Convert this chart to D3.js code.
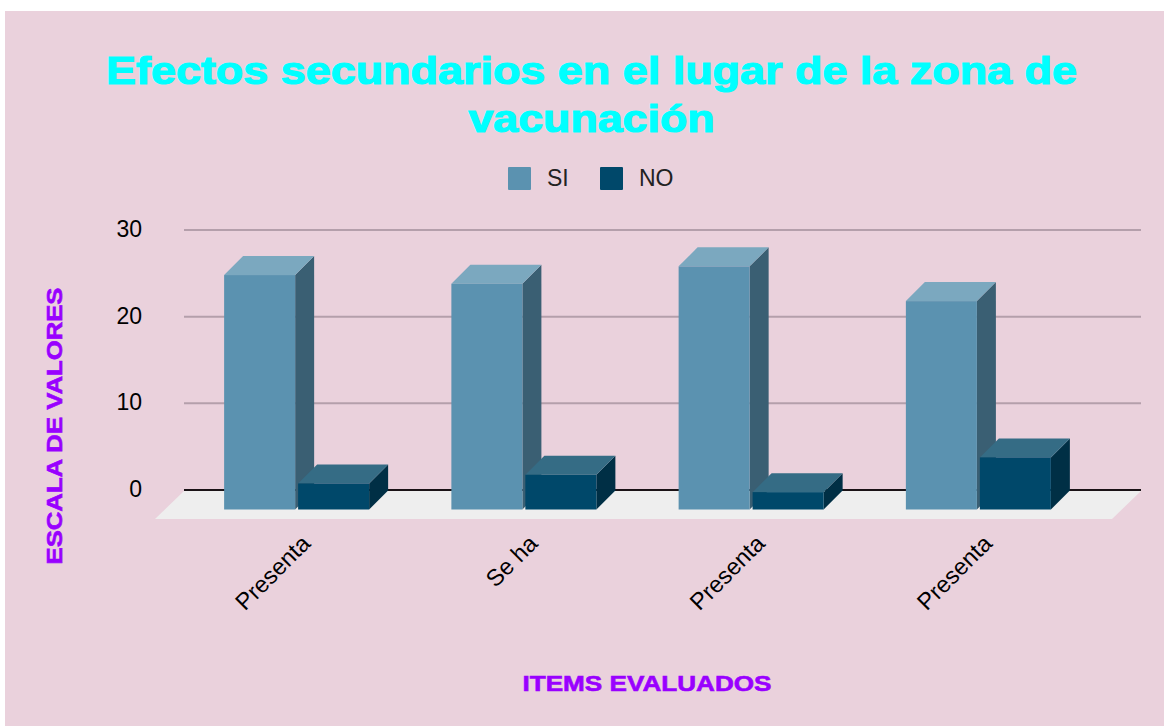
<!DOCTYPE html>
<html><head><meta charset="utf-8">
<script src="https://cdn.jsdelivr.net/npm/d3@7/dist/d3.min.js"></script>
<style>html,body{margin:0;padding:0;background:#fff}svg{display:block}text{font-family:"Liberation Sans",Arial,sans-serif}</style>
</head><body><svg id="c" width="1164" height="726"></svg>
<script>
const categories = ["Presenta", "Se ha", "Presenta", "Presenta"];
const seriesNames = ["SI", "NO"];
const siValues = [27, 26, 28, 24];
const noValues = [3, 4, 2, 6];
const yTicks = [0, 10, 20, 30];
const titleLines = ["Efectos secundarios en el lugar de la zona de", "vacunación"];
const colors = {SI: {front:"#5b92b0", top:"#7ba8bf", side:"#3a5f73"}, NO: {front:"#00486a", top:"#356c85", side:"#002f45"}};

const svg = d3.select("#c");
const depth = 19;
const y = d3.scaleLinear().domain([0,30]).range([509.5,249]); // front plane
const x0 = d3.scaleBand().domain(d3.range(categories.length)).range([183,1092]);
const x1 = d3.scaleBand().domain(seriesNames).range([0,145]).paddingInner(0.04);
const groupOffset = (x0.bandwidth()-145)/2;

svg.append("rect").attr("x",5).attr("y",11).attr("width",1159).attr("height",715).attr("fill","#ead1dc");

// title
svg.append("g").selectAll("text").data(titleLines).join("text")
  .attr("x",591.5).attr("y",(d,i)=>84+i*48).attr("text-anchor","middle")
  .attr("font-size",39).attr("font-weight","bold").attr("fill","#00ffff")
  .attr("stroke","#00ffff").attr("stroke-width",1.2).attr("textLength",(d,i)=>i==0?971:246).attr("lengthAdjust","spacingAndGlyphs")
  .text(d=>d);

// legend
const legend = svg.append("g");
[[508,547],[600,639]].forEach(([rx,tx],i)=>{
  const n = seriesNames[i];
  legend.append("rect").attr("x",rx).attr("y",167).attr("width",23).attr("height",23).attr("rx",1).attr("fill",colors[n].front);
  legend.append("text").attr("x",tx).attr("y",186).attr("font-size",23).attr("fill","#222").text(n);
});

// grid + axis on back plane
const yBack = d3.scaleLinear().domain([0,30]).range([490,230]);
const axis = d3.axisLeft(yBack).tickValues(yTicks).tickSize(0).tickPadding(0).tickFormat(d3.format("d"));
const ag = svg.append("g").attr("transform","translate(142,1)").call(axis);
ag.select(".domain").remove();
ag.selectAll("text").attr("font-size",23).attr("fill","#000").attr("dy","0.24em").attr("font-family",'"Liberation Sans",Arial,sans-serif');
svg.append("g").selectAll("line").data(yTicks).join("line")
  .attr("x1",184).attr("x2",1141).attr("y1",d=>yBack(d)).attr("y2",d=>yBack(d))
  .attr("stroke",d=>d==0?"#1a1216":"#b49fab").attr("stroke-width",2);

// floor
svg.append("path").attr("fill","#eeeeee")
  .attr("d",`M184,491L1141,491L1112,519L155,519Z`);

// bars
const rows = categories.flatMap((c,i)=>[{s:"SI",i,v:siValues[i]},{s:"NO",i,v:noValues[i]}]);
const bars = svg.append("g").selectAll("g").data(rows).join("g");
bars.each(function(d){
  const g = d3.select(this), l = x0(d.i)+groupOffset+x1(d.s), r = l+x1.bandwidth(), t = y(d.v), b = y(0), c = colors[d.s];
  g.append("path").attr("fill",c.side).attr("d",`M${r},${t}L${r+depth},${t-depth}L${r+depth},${b-depth}L${r},${b}Z`);
  g.append("path").attr("fill",c.top).attr("d",`M${l},${t}L${l+depth},${t-depth}L${r+depth},${t-depth}L${r},${t}Z`);
  g.append("rect").attr("x",l).attr("y",t).attr("width",r-l).attr("height",b-t).attr("fill",c.front);
});

// category labels
svg.append("g").selectAll("text").data(categories).join("text")
  .attr("transform",(d,i)=>`translate(${x0(i)+x0.bandwidth()/2+15},545) rotate(-45)`)
  .attr("text-anchor","end").attr("font-size",23.5).attr("fill","#000").text(d=>d);

// axis titles
svg.append("text").attr("x",647).attr("y",691).attr("text-anchor","middle")
  .attr("font-size",22).attr("font-weight","bold").attr("fill","#9900ff").attr("stroke","#9900ff").attr("stroke-width",0.6)
  .attr("textLength",249).attr("lengthAdjust","spacingAndGlyphs").text("ITEMS EVALUADOS");
svg.append("text").attr("transform","translate(62,426) rotate(-90)").attr("text-anchor","middle")
  .attr("font-size",22).attr("font-weight","bold").attr("fill","#9900ff").attr("stroke","#9900ff").attr("stroke-width",0.6)
  .attr("textLength",277).attr("lengthAdjust","spacingAndGlyphs").text("ESCALA DE VALORES");
</script></body></html>
